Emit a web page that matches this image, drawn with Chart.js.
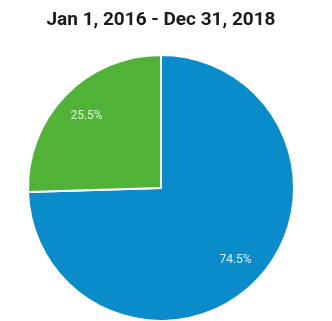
<!DOCTYPE html>
<html>
<head>
<meta charset="utf-8">
<script src="https://cdn.jsdelivr.net/npm/chart.js@4"></script>
<style>
  html, body { margin: 0; padding: 0; background: #fff; overflow: hidden; }
  #wrap { width: 332px; height: 321px; overflow: hidden; }
</style>
</head>
<body>
<div id="wrap"><canvas id="pie" width="332" height="326"></canvas></div>
<script>
const chartTitle = "Jan 1, 2016 - Dec 31, 2018";
const categories = ["Blue", "Green"];
const shares = [74.5, 25.5];
const sliceColors = ["#0b8cca", "#50b237"];

// percent labels inside each slice
const sliceLabels = {
    id: "sliceLabels",
    afterDatasetsDraw(chart) {
        const ctx = chart.ctx;
        const meta = chart.getDatasetMeta(0);
        ctx.save();
        ctx.font = "12px Roboto";
        ctx.fillStyle = "rgba(255,255,255,0.85)";
        ctx.textAlign = "center";
        ctx.textBaseline = "middle";
        meta.data.forEach((arc, i) => {
            const mid = (arc.startAngle + arc.endAngle) / 2;
            const r = arc.outerRadius * 0.78;
            const x = arc.x + Math.cos(mid) * r;
            const y = arc.y + Math.sin(mid) * r;
            ctx.fillText(shares[i].toFixed(1) + "%", x, y);
        });
        ctx.restore();
    }
};

new Chart(document.getElementById("pie"), {
    type: "pie",
    data: {
        labels: categories,
        datasets: [{
            data: shares,
            backgroundColor: sliceColors,
            borderColor: "#ffffff",
            borderWidth: 2
        }]
    },
    options: {
        responsive: false,
        animation: false,
        layout: { padding: { left: 27, right: 37, top: 0, bottom: 4 } },
        plugins: {
            legend: { display: false },
            tooltip: { enabled: false },
            title: {
                display: true,
                text: chartTitle,
                color: "#1a1a1a",
                font: { family: "Roboto", size: 19, weight: "bold" },
                padding: { top: 9, bottom: 22 }
            }
        }
    },
    plugins: [sliceLabels]
});
</script>
</body>
</html>
